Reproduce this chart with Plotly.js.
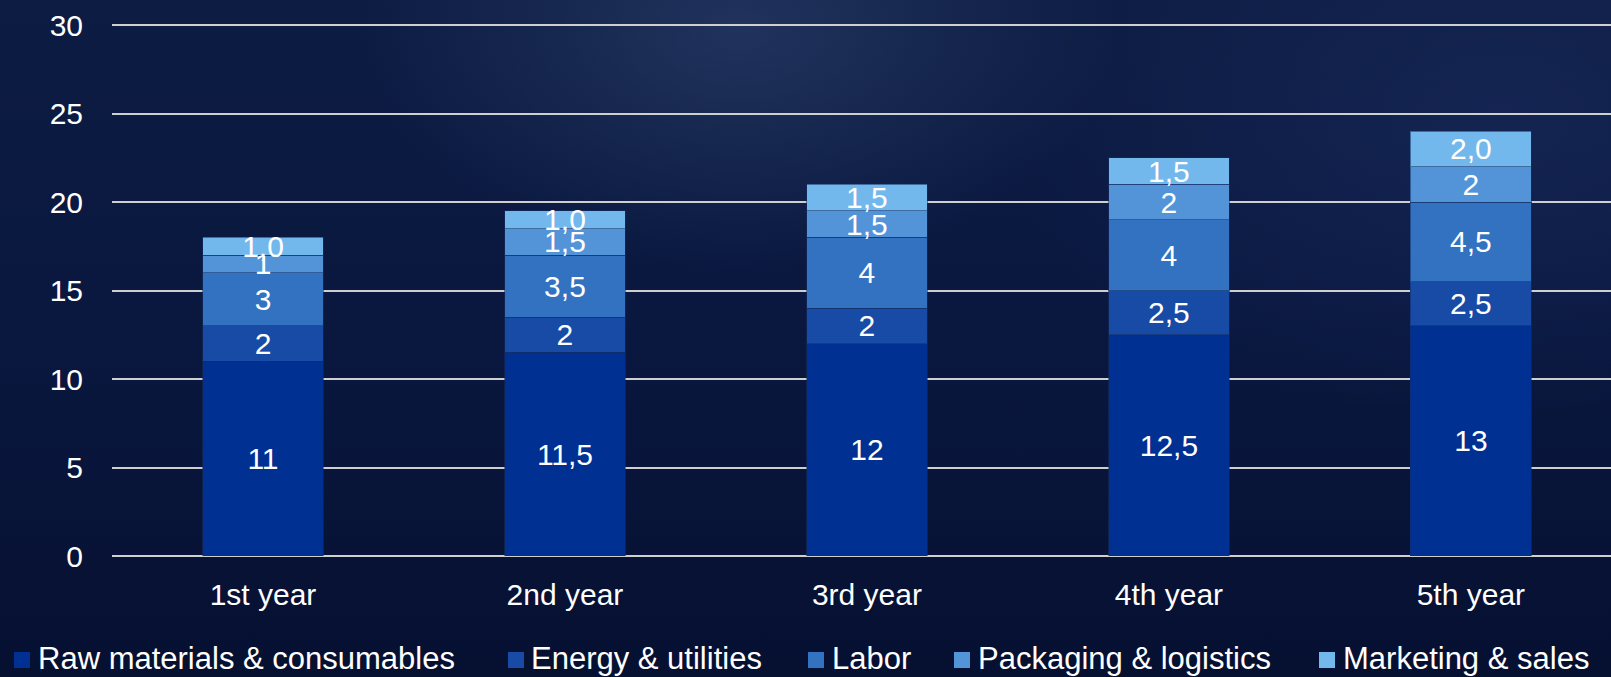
<!DOCTYPE html>
<html>
<head>
<meta charset="utf-8">
<script src="https://cdn.plot.ly/plotly-3.0.1.min.js"></script>
<style>
html, body { margin: 0; padding: 0; }
body {
  width: 1611px; height: 677px; overflow: hidden;
  background:
    radial-gradient(ellipse 380px 240px at 740px 30px, rgba(70,95,140,0.35), rgba(70,95,140,0) 100%),
    radial-gradient(ellipse 500px 300px at 1500px 120px, rgba(40,60,120,0.30), rgba(40,60,120,0) 100%),
    linear-gradient(to bottom, #0d1c43 0%, #0a1840 45%, #061031 100%);
}
#chart { width: 1611px; height: 677px; }
</style>
</head>
<body>
<div id="chart"></div>
<script>
// ---- data ----
const categories = ['1st year', '2nd year', '3rd year', '4th year', '5th year'];
const seriesNames = ['Raw materials & consumables', 'Energy & utilities', 'Labor', 'Packaging & logistics', 'Marketing & sales'];
const rawMaterials = [11, 11.5, 12, 12.5, 13];
const energyUtilities = [2, 2, 2, 2.5, 2.5];
const labor = [3, 3.5, 4, 4, 4.5];
const packagingLogistics = [1, 1.5, 1.5, 2, 2];
const marketingSales = [1.0, 1.0, 1.5, 1.5, 2.0];

// ---- style ----
const colors = ['#003091', '#184ba5', '#3272c0', '#5394d9', '#73b8ec'];
const fixedDecimals = [false, false, false, false, true];
const seriesValues = [rawMaterials, energyUtilities, labor, packagingLogistics, marketingSales];
const FONT = 'Liberation Sans, Arial, sans-serif';

function fmt(v, fixed) {
  const s = fixed ? v.toFixed(1) : String(v);
  return s.replace('.', ',');
}

const traces = seriesValues.map((vals, i) => ({
  type: 'bar',
  name: seriesNames[i],
  x: categories,
  y: vals,
  text: vals.map(v => fmt(v, fixedDecimals[i])),
  textposition: 'inside',
  insidetextanchor: 'middle',
  textangle: 0,
  constraintext: 'none',
  textfont: { family: FONT, size: 30, color: '#ffffff' },
  marker: { color: colors[i], line: { color: 'rgba(20,45,100,0.55)', width: 1 } },
  hoverinfo: 'skip',
  showlegend: false
}));

// plot area in pixels
const W = 1611, H = 677;
const M = { l: 112, r: 0, t: 24, b: 121 };
const pw = W - M.l - M.r, ph = H - M.t - M.b;
const px2x = p => (p - M.l) / pw;
const px2y = p => (H - M.b - p) / ph;

// manual legend
const legendMarkerX = [14, 508, 808, 954, 1319];
const legendTextX = [37, 530, 831, 977, 1342];
const legendTop = 652, legendBottom = 668, legendMid = 658;
const shapes = [], annotations = [];
seriesNames.forEach((n, i) => {
  shapes.push({
    type: 'rect', xref: 'paper', yref: 'paper',
    x0: px2x(legendMarkerX[i]), x1: px2x(legendMarkerX[i] + 16),
    y0: px2y(legendBottom), y1: px2y(legendTop),
    fillcolor: colors[i], line: { width: 0 }
  });
  annotations.push({
    xref: 'paper', yref: 'paper', x: px2x(legendTextX[i]), y: px2y(legendMid),
    xanchor: 'left', yanchor: 'middle', showarrow: false, text: n,
    font: { family: FONT, size: 31, color: '#ffffff' }, borderpad: 0
  });
});

const layout = {
  width: W, height: H,
  margin: M,
  paper_bgcolor: 'rgba(0,0,0,0)',
  plot_bgcolor: 'rgba(0,0,0,0)',
  barmode: 'stack',
  bargap: 0.6,
  showlegend: false,
  separators: ',.',
  font: { family: FONT, color: '#ffffff', size: 30 },
  xaxis: {
    type: 'category',
    range: [-0.5, 4.464],
    showgrid: false, zeroline: false, showline: false, ticks: '',
    tickfont: { family: FONT, size: 30, color: '#ffffff' },
    ticklabelstandoff: 18
  },
  yaxis: {
    range: [0, 30.057], tickvals: [0, 5, 10, 15, 20, 25, 30],
    showgrid: true, gridcolor: '#cfcfcf', gridwidth: 2,
    zeroline: true, zerolinecolor: '#cfcfcf', zerolinewidth: 2,
    showline: false, ticks: '',
    tickfont: { family: FONT, size: 30, color: '#ffffff' },
    ticklabelstandoff: 28
  },
  shapes: shapes,
  annotations: annotations
};

Plotly.newPlot('chart', traces, layout, { staticPlot: true, displayModeBar: false });
</script>
</body>
</html>
